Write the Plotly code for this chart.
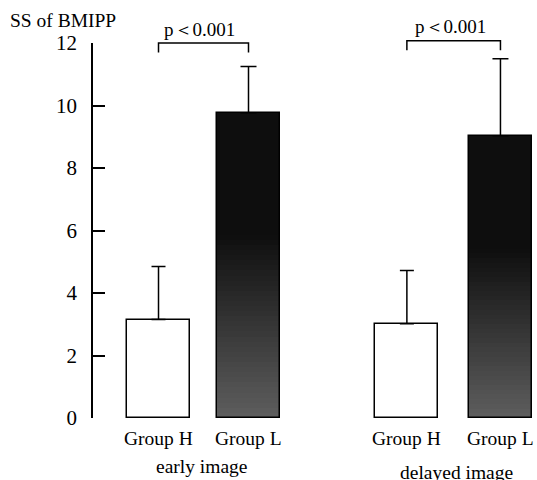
import plotly.graph_objects as go

# ---- data ----
panels = ["early image", "delayed image"]
groups = ["Group H", "Group L"]
means_H = [3.15, 3.02]
sd_H = [1.70, 1.70]
means_L = [9.77, 9.03]
sd_L = [1.48, 2.47]
p_labels = ["p＜0.001", "p＜0.001"]
y_ticks = [0, 2, 4, 6, 8, 10, 12]

# ---- layout helpers (positions, not data) ----
group_offset = [0.0, 2.76]
pair_gap = [1.0, 1.04]
bar_w = 0.7
xH = [group_offset[i] for i in range(2)]
xL = [group_offset[i] + pair_gap[i] for i in range(2)]

FONT = "Liberation Serif, Times New Roman, serif"

fig = go.Figure()

# white bars for Group H
fig.add_trace(go.Bar(
    x=xH, y=means_H, width=bar_w,
    marker=dict(color="white", line=dict(color="black", width=1.5)),
    error_y=dict(type="data", symmetric=False, array=sd_H, arrayminus=[0, 0],
                 color="black", thickness=1.5, width=7),
    showlegend=False, hoverinfo="skip",
))

# gradient fill for Group L: stacked segments, black top -> gray bottom
N = 60
def shade(t):
    # t = 0 at bottom, 1 at top
    if t > 0.6:
        g = 14
    else:
        g = 14 + (0.6 - t) / 0.6 * 80
    g = int(round(g))
    return f"rgb({g},{g},{g})"

for k in range(N):
    t = (k + 0.5) / N
    fig.add_trace(go.Bar(
        x=xL, y=[m / N for m in means_L], base=[m * k / N for m in means_L],
        width=bar_w, marker=dict(color=shade(t), line=dict(width=0)),
        showlegend=False, hoverinfo="skip",
    ))

# outline + error bars for Group L
fig.add_trace(go.Bar(
    x=xL, y=means_L, width=bar_w,
    marker=dict(color="rgba(0,0,0,0)", line=dict(color="black", width=1.5)),
    error_y=dict(type="data", symmetric=False, array=sd_L, arrayminus=[0, 0],
                 color="black", thickness=1.5, width=8),
    showlegend=False, hoverinfo="skip",
))

ymax = max(y_ticks)
shapes = []
annotations = []
bracket_top = [12.0, 12.07]
bracket_drop = 0.3
for i in range(2):
    yt = bracket_top[i] / ymax
    yb = (bracket_top[i] - bracket_drop) / ymax
    shapes.append(dict(type="path", xref="x", yref="paper",
                       path=f"M {xH[i]},{yb} L {xH[i]},{yt} L {xL[i]},{yt} L {xL[i]},{yb}",
                       line=dict(color="black", width=1.5)))
    annotations.append(dict(x=(xH[i] + xL[i]) / 2 - 0.04, xref="x", y=yt, yref="paper",
                            yshift=14, yanchor="middle", showarrow=False,
                            text=p_labels[i], font=dict(family=FONT, size=19, color="black")))
    for xg, lab in zip([xH[i], xL[i]], groups):
        annotations.append(dict(x=xg, xref="x", y=0, yref="paper", yshift=-20,
                                yanchor="middle", showarrow=False, text=lab,
                                font=dict(family=FONT, size=19.5, color="black")))
    annotations.append(dict(x=(xH[i] + xL[i]) / 2 + (-0.02 if i == 0 else 0.03), xref="x",
                            y=0, yref="paper", yshift=-48 - 6 * i,
                            yanchor="middle", showarrow=False, text=panels[i],
                            font=dict(family=FONT, size=19.5, color="black")))

annotations.append(dict(x=0, xref="paper", xshift=-85, xanchor="left",
                        y=1, yref="paper", yshift=23, yanchor="middle",
                        showarrow=False, text="SS of BMIPP",
                        font=dict(family=FONT, size=19.5, color="black")))

fig.update_layout(
    width=537, height=480,
    margin=dict(l=93, r=0, t=43, b=62),
    paper_bgcolor="white", plot_bgcolor="white",
    barmode="overlay", bargap=0,
    shapes=shapes, annotations=annotations,
    xaxis=dict(range=[-0.728, 4.206], showline=False, showgrid=False,
               zeroline=False, showticklabels=False, ticks=""),
    yaxis=dict(range=[0, ymax], tickvals=y_ticks, ticktext=[str(v) for v in y_ticks],
               showline=True, linecolor="black", linewidth=1.5,
               ticks="inside", ticklen=12, tickwidth=1.5, tickcolor="black",
               showgrid=False, zeroline=False, ticklabelstandoff=10,
               tickfont=dict(family=FONT, size=21, color="black")),
)

# remove the default page margin so the 537x480 figure fills the window exactly
fig.write_html("out.html",
               config={"displayModeBar": False},
               post_script="document.body.style.margin='0';document.body.style.overflow='hidden';")
